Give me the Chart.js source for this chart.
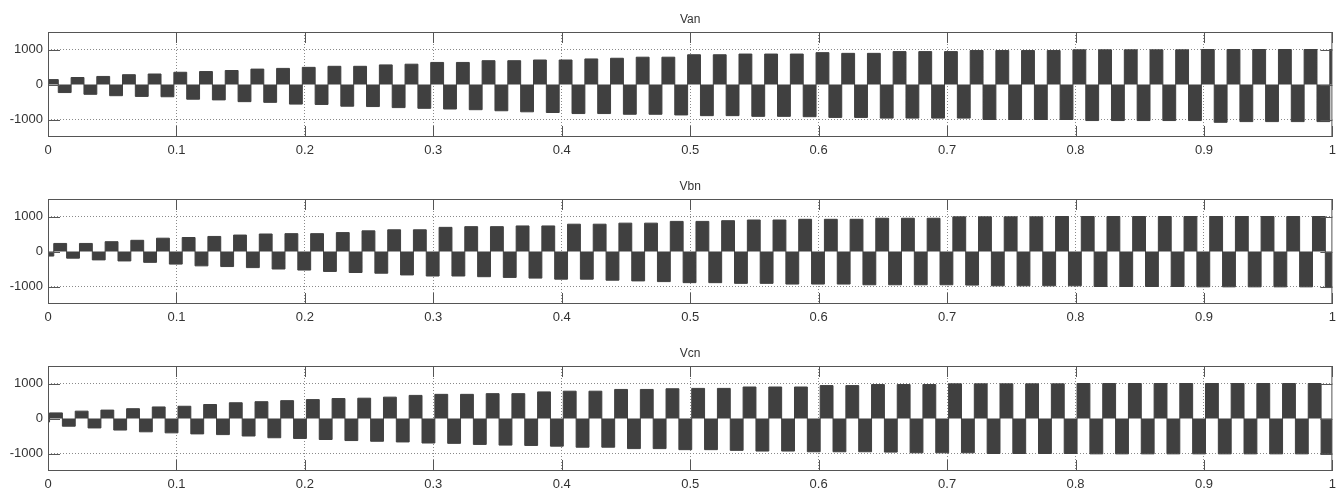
<!DOCTYPE html>
<html>
<head>
<meta charset="utf-8">
<script src="https://cdn.jsdelivr.net/npm/chart.js@4.4.1/dist/chart.umd.min.js"></script>
<style>
  html, body { margin: 0; padding: 0; background: #fff; }
  body { width: 1342px; height: 492px; position: relative; overflow: hidden; }
  .plot { position: absolute; left: 0; width: 1342px; height: 158px; }
</style>
</head>
<body>
<div class="plot" style="top:0px"><canvas id="van" width="1342" height="158"></canvas></div>
<div class="plot" style="top:167px"><canvas id="vbn" width="1342" height="158"></canvas></div>
<div class="plot" style="top:334px"><canvas id="vcn" width="1342" height="158"></canvas></div>
<script>
// ticks
const xTicks = [0, 0.1, 0.2, 0.3, 0.4, 0.5, 0.6, 0.7, 0.8, 0.9, 1];
const yTicks = [-1000, 0, 1000];

// time base: 50 Hz, one level per half cycle
const HALF_PERIOD = 0.01;
const T_END = 1;
const vanFirstSwitch = 0.008;
const vbnFirstSwitch = 0.0045;
const vcnFirstSwitch = 0.0012;

// half-cycle levels (V)
const vanLevels = [
  140, -230, 200, -280, 230, -320, 280, -340, 300, -350,
  350, -420, 370, -440, 400, -490, 440, -510, 460, -560,
  490, -570, 520, -620, 520, -630, 560, -660, 580, -680,
  630, -700, 630, -720, 680, -750, 680, -780, 700, -800,
  700, -830, 730, -830, 750, -850, 780, -850, 780, -870,
  850, -890, 850, -890, 870, -910, 870, -910, 870, -920,
  910, -940, 890, -940, 890, -960, 940, -960, 940, -960,
  940, -960, 970, -1000, 970, -1000, 970, -1000, 970, -1000,
  990, -1030, 990, -1030, 990, -1030, 990, -1030, 990, -1030,
  1000, -1080, 1000, -1060, 1000, -1060, 1000, -1060, 1000, -1060,
  1000
];
const vbnLevels = [
  -130, 230, -190, 230, -240, 280, -270, 320, -310, 380,
  -360, 400, -410, 430, -430, 470, -460, 500, -500, 510,
  -530, 510, -570, 540, -600, 590, -620, 620, -670, 620,
  -700, 690, -700, 710, -720, 710, -740, 730, -760, 730,
  -790, 780, -790, 780, -820, 810, -840, 810, -860, 860,
  -890, 860, -890, 880, -910, 900, -910, 900, -930, 920,
  -930, 920, -930, 920, -950, 950, -950, 950, -950, 950,
  -950, 990, -960, 990, -980, 990, -980, 990, -980, 1000,
  -980, 1000, -1000, 1000, -1000, 1000, -1000, 1000, -1000, 1000,
  -1010, 1000, -1010, 1000, -1010, 1000, -1010, 1000, -1010, 1000,
  -1030
];
const vcnLevels = [
  -100, 160, -220, 210, -270, 240, -330, 280, -380, 330,
  -410, 350, -440, 400, -460, 450, -500, 480, -550, 510,
  -570, 540, -600, 570, -630, 580, -650, 610, -670, 660,
  -700, 690, -710, 690, -740, 710, -760, 710, -770, 760,
  -790, 780, -820, 780, -820, 830, -860, 830, -860, 850,
  -890, 860, -890, 860, -910, 900, -930, 900, -930, 900,
  -950, 940, -950, 940, -950, 970, -960, 970, -980, 970,
  -980, 990, -980, 990, -1000, 990, -1000, 990, -1000, 990,
  -1000, 1000, -1010, 1000, -1010, 1000, -1010, 1000, -1010, 1000,
  -1010, 1000, -1010, 1000, -1010, 1000, -1010, 1000, -1010, 1000,
  -1010
];

const WAVE = '#404040';
const FRAME = '#555555';
const GRID = '#8a8a8a';
const TEXT = '#333333';
const FONT = "'Liberation Sans', Arial, sans-serif";

Chart.defaults.font.family = FONT;
Chart.defaults.font.size = 13;
Chart.defaults.color = TEXT;

function framePlugin(title) {
  return {
    id: 'frame',
    afterDraw(chart) {
      const { ctx, chartArea: a, scales } = chart;
      ctx.save();
      ctx.strokeStyle = FRAME;
      ctx.lineWidth = 1;
      ctx.strokeRect(a.left + 0.5, a.top + 0.5, a.right - a.left - 1, a.bottom - a.top - 1);
      // inward ticks, MATLAB style
      ctx.beginPath();
      xTicks.forEach(v => {
        const px = Math.round(scales.x.getPixelForValue(v)) + 0.5;
        ctx.moveTo(px, a.top); ctx.lineTo(px, a.top + 11);
        ctx.moveTo(px, a.bottom); ctx.lineTo(px, a.bottom - 11);
      });
      yTicks.forEach(v => {
        const py = Math.round(scales.y.getPixelForValue(v)) + 0.5;
        ctx.moveTo(a.left, py); ctx.lineTo(a.left + 12, py);
        ctx.moveTo(a.right, py); ctx.lineTo(a.right - 12, py);
      });
      ctx.stroke();
      // subplot title
      ctx.fillStyle = TEXT;
      ctx.font = '12px ' + FONT;
      ctx.textAlign = 'center';
      ctx.textBaseline = 'middle';
      ctx.fillText(title, (a.left + a.right) / 2, a.top - 12);
      ctx.restore();
    }
  };
}

function makeChart(id, title, firstSwitch, levels) {
  const pts = levels.map((v, i) => ({ x: i === 0 ? 0 : firstSwitch + (i - 1) * HALF_PERIOD, y: v }));
  pts.push({ x: T_END, y: levels[levels.length - 1] });

  return new Chart(document.getElementById(id), {
    type: 'line',
    data: {
      datasets: [{
        data: pts,
        stepped: true,
        fill: 'origin',
        borderColor: WAVE,
        backgroundColor: WAVE,
        borderWidth: 1,
        pointRadius: 0
      }]
    },
    options: {
      responsive: false,
      animation: false,
      layout: { padding: { left: 0, right: 6, top: 32, bottom: 0 } },
      plugins: { legend: { display: false }, tooltip: { enabled: false } },
      scales: {
        x: {
          type: 'linear', min: 0, max: T_END,
          afterBuildTicks: ax => { ax.ticks = xTicks.map(v => ({ value: v })); },
          afterFit: ax => { ax.height = 21; },
          grid: {
            drawTicks: false, lineWidth: 1,
            color: c => (c.tick && (c.tick.value === 0 || c.tick.value === T_END)) ? 'rgba(0,0,0,0)' : GRID
          },
          border: { display: false, dash: [1, 2] },
          ticks: { padding: 6, maxRotation: 0, autoSkip: false, callback: v => String(v) }
        },
        y: {
          min: -1500, max: 1500,
          afterBuildTicks: ax => { ax.ticks = yTicks.map(v => ({ value: v })); },
          afterFit: ax => { ax.width = 48; },
          grid: {
            drawTicks: false, lineWidth: 1,
            color: c => (c.tick && c.tick.value === 0) ? 'rgba(0,0,0,0)' : GRID
          },
          border: { display: false, dash: [1, 2] },
          ticks: { padding: 5, callback: v => String(v) }
        }
      }
    },
    plugins: [framePlugin(title)]
  });
}

makeChart('van', 'Van', vanFirstSwitch, vanLevels);
makeChart('vbn', 'Vbn', vbnFirstSwitch, vbnLevels);
makeChart('vcn', 'Vcn', vcnFirstSwitch, vcnLevels);
</script>
</body>
</html>
